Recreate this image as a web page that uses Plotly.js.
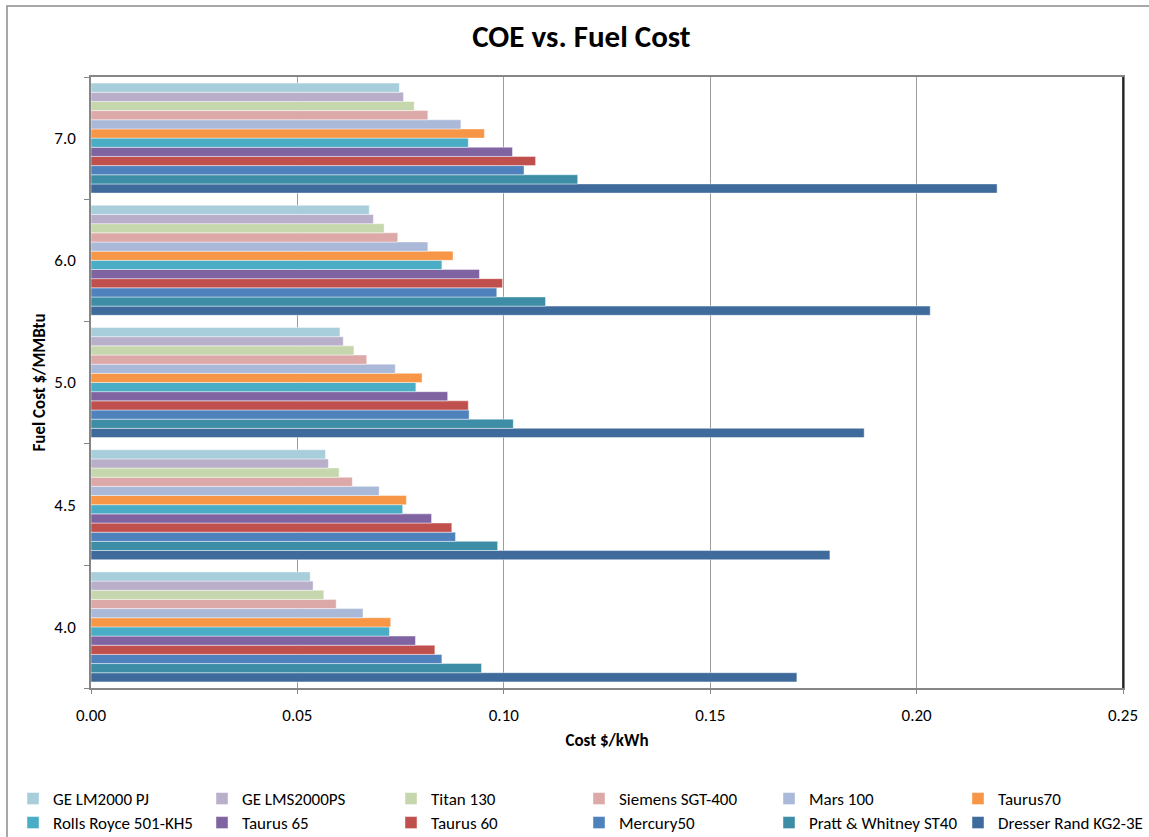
<!DOCTYPE html>
<html>
<head>
<meta charset="utf-8">
<script src="https://cdn.plot.ly/plotly-3.0.1.min.js"></script>
<style>html,body{margin:0;padding:0;background:#fff;}#chart{width:1149px;height:837px;}</style>
</head>
<body>
<div id="chart"></div>
<script>
const fuelCost = ['4.0', '4.5', '5.0', '6.0', '7.0'];

const geLM2000PJ    = [0.0531, 0.0568, 0.0603, 0.0674, 0.0747];
const geLMS2000PS   = [0.0538, 0.0575, 0.0611, 0.0684, 0.0757];
const titan130      = [0.0564, 0.0601, 0.0637, 0.0710, 0.0783];
const siemensSGT400 = [0.0594, 0.0633, 0.0668, 0.0743, 0.0816];
const mars100       = [0.0659, 0.0698, 0.0737, 0.0816, 0.0896];
const taurus70      = [0.0726, 0.0764, 0.0802, 0.0877, 0.0953];
const rollsRoyce    = [0.0723, 0.0755, 0.0787, 0.0850, 0.0914];
const taurus65      = [0.0786, 0.0825, 0.0864, 0.0941, 0.1021];
const taurus60      = [0.0833, 0.0874, 0.0914, 0.0997, 0.1077];
const mercury50     = [0.0850, 0.0883, 0.0916, 0.0983, 0.1049];
const prattST40     = [0.0946, 0.0985, 0.1023, 0.1101, 0.1179];
const dresserKG2    = [0.1710, 0.1790, 0.1873, 0.2033, 0.2195];

const xTicks = [0, 0.05, 0.10, 0.15, 0.20, 0.25];

// legend order (row by row)
const legendNames = ['GE LM2000 PJ', 'GE LMS2000PS', 'Titan 130', 'Siemens SGT-400', 'Mars 100', 'Taurus70',
                     'Rolls Royce 501-KH5', 'Taurus 65', 'Taurus 60', 'Mercury50', 'Pratt & Whitney ST40', 'Dresser Rand KG2-3E'];

// bottom-to-top inside each group
const series = [
  {name: 'Dresser Rand KG2-3E', x: dresserKG2, color: '#3F6B9C'},
  {name: 'Pratt & Whitney ST40', x: prattST40, color: '#3C8DA5'},
  {name: 'Mercury50', x: mercury50, color: '#4F81BD'},
  {name: 'Taurus 60', x: taurus60, color: '#C0504D'},
  {name: 'Taurus 65', x: taurus65, color: '#8064A2'},
  {name: 'Rolls Royce 501-KH5', x: rollsRoyce, color: '#4BACC6'},
  {name: 'Taurus70', x: taurus70, color: '#F79646'},
  {name: 'Mars 100', x: mars100, color: '#AAB9D8'},
  {name: 'Siemens SGT-400', x: siemensSGT400, color: '#DCA9A8'},
  {name: 'Titan 130', x: titan130, color: '#C6D7AD'},
  {name: 'GE LMS2000PS', x: geLMS2000PS, color: '#B9AFCA'},
  {name: 'GE LM2000 PJ', x: geLM2000PJ, color: '#A8CEDB'}
];

function legendId(i) { return i === 0 ? 'legend' : 'legend' + (i + 1); }

const traces = series.map(s => ({
  type: 'bar',
  orientation: 'h',
  name: s.name,
  x: s.x,
  y: fuelCost,
  legend: legendId(legendNames.indexOf(s.name)),
  marker: {color: s.color, line: {color: 'rgba(255,255,255,0.55)', width: 0.8}},
  hoverinfo: 'x+y+name'
}));

const FONT = "Carlito, 'Liberation Sans Narrow', 'Liberation Sans', Arial, sans-serif";

const W = 1149, H = 837;
const colTextX = [53, 242, 431, 619, 809, 998];   // px where legend text starts
const rowCenterY = [799, 823];                     // px of legend row centres

const layout = {
  width: W,
  height: H,
  margin: {l: 91, r: 26, t: 77, b: 149, pad: 0, autoexpand: false},
  paper_bgcolor: '#fff',
  plot_bgcolor: '#fff',
  font: {family: FONT, size: 17, color: '#000'},
  title: {
    text: 'COE vs. Fuel Cost',
    font: {family: FONT, size: 31, color: '#000', weight: 'bold'},
    x: 0.506, xref: 'container', xanchor: 'center',
    y: 1 - 36 / H, yref: 'container', yanchor: 'middle'
  },
  barmode: 'group',
  bargap: 0.1,
  bargroupgap: 0,
  showlegend: true,
  xaxis: {
    range: [0, 0.25],
    tickvals: xTicks,
    tickformat: '.2f',
    showgrid: true,
    gridcolor: '#9c9c9c',
    gridwidth: 1.3,
    zeroline: false,
    showline: true,
    linecolor: '#868686',
    linewidth: 1.5,
    mirror: true,
    ticks: 'outside',
    ticklen: 4,
    tickcolor: '#868686',
    tickwidth: 1,
    ticklabelstandoff: 7,
    tickfont: {family: FONT, size: 17, color: '#000'},
    title: {text: 'Cost $/kWh', font: {family: FONT, size: 17, color: '#000', weight: 'bold'}, standoff: 9},
    fixedrange: true
  },
  yaxis: {
    type: 'category',
    categoryorder: 'array',
    categoryarray: fuelCost,
    showgrid: false,
    zeroline: false,
    showline: true,
    linecolor: '#868686',
    linewidth: 1.5,
    mirror: true,
    ticks: 'outside',
    tickson: 'boundaries',
    ticklen: 5,
    tickcolor: '#868686',
    tickwidth: 1,
    ticklabelstandoff: 10,
    tickfont: {family: FONT, size: 17, color: '#000'},
    title: {text: 'Fuel Cost $/MMBtu', font: {family: FONT, size: 17, color: '#000', weight: 'bold'}, standoff: 4},
    fixedrange: true
  },
  shapes: [
    {type: 'rect', xref: 'paper', yref: 'paper', x0: -0.0814, x1: 1.2, y0: -0.4, y1: 1.1162,
     line: {color: '#8c8c8c', width: 1.5}, fillcolor: 'rgba(0,0,0,0)', layer: 'below'},
    {type: 'line', xref: 'paper', yref: 'paper', x0: 1, x1: 1, y0: 0, y1: 1,
     line: {color: '#000', width: 1.5}}
  ]
};

legendNames.forEach((n, i) => {
  const col = i % 6, row = Math.floor(i / 6);
  layout[legendId(i)] = {
    orientation: 'h',
    xref: 'container', yref: 'container',
    xanchor: 'left', yanchor: 'middle',
    x: (colTextX[col] - 40) / W,
    y: 1 - rowCenterY[row] / H,
    font: {family: FONT, size: 17, color: '#000'},
    bgcolor: 'rgba(0,0,0,0)',
    borderwidth: 0
  };
});

Plotly.newPlot('chart', traces, layout, {displayModeBar: false, responsive: false});
</script>
</body>
</html>
